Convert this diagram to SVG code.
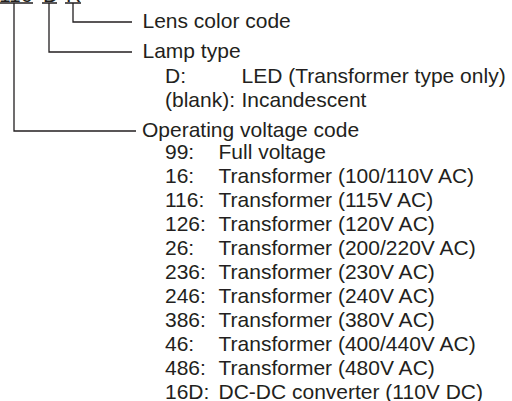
<svg xmlns="http://www.w3.org/2000/svg" width="512" height="401" viewBox="0 0 512 401">
<style>
text{font-family:"Liberation Sans",Arial,sans-serif;font-size:21px;fill:#231f20}
.c{fill:none;stroke:#231f20;stroke-width:1.3}
</style>
<rect width="512" height="401" fill="#fff"/>
<g id="code">
<text x="-1" y="1.5">116</text>
<text x="43" y="1.5">D</text>
<text x="66" y="1.5">R</text>
<path class="c" d="M0 3H33M42 3H57M65 3H81"/>
</g>
<g id="connectors">
<path class="c" d="M73 3V22H132"/>
<path class="c" d="M49 3V52H132"/>
<path class="c" d="M14 3V131H136"/>
</g>
<g id="lens">
<text x="142.5" y="27.5">Lens color code</text>
</g>
<g id="lamp">
<text x="142.5" y="57.5">Lamp type</text>
<text x="165" y="82.5">D:</text><text x="241.5" y="82.5">LED (Transformer type only)</text>
<text x="165" y="107">(blank):</text><text x="241.5" y="107">Incandescent</text>
</g>
<g id="voltage">
<text x="142" y="136.5">Operating voltage code</text>
<text x="165" y="159">99:</text><text x="218.5" y="159">Full voltage</text>
<text x="165" y="183">16:</text><text x="218.5" y="183">Transformer (100/110V AC)</text>
<text x="165" y="207">116:</text><text x="218.5" y="207">Transformer (115V AC)</text>
<text x="165" y="231">126:</text><text x="218.5" y="231">Transformer (120V AC)</text>
<text x="165" y="255">26:</text><text x="218.5" y="255">Transformer (200/220V AC)</text>
<text x="165" y="279">236:</text><text x="218.5" y="279">Transformer (230V AC)</text>
<text x="165" y="303">246:</text><text x="218.5" y="303">Transformer (240V AC)</text>
<text x="165" y="327">386:</text><text x="218.5" y="327">Transformer (380V AC)</text>
<text x="165" y="351">46:</text><text x="218.5" y="351">Transformer (400/440V AC)</text>
<text x="165" y="375">486:</text><text x="218.5" y="375">Transformer (480V AC)</text>
<text x="165" y="399">16D:</text><text x="218.5" y="399">DC-DC converter (110V DC)</text>
</g>
</svg>
